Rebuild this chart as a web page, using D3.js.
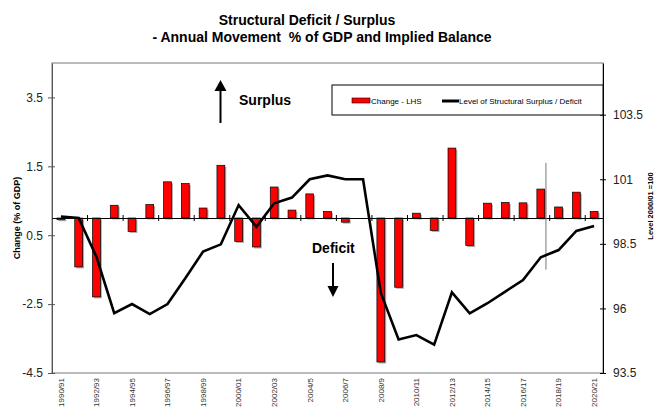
<!DOCTYPE html>
<html>
<head>
<meta charset="utf-8">
<script src="https://cdn.jsdelivr.net/npm/d3@7"></script>
<style>
  html, body { margin: 0; padding: 0; background: #fff; }
  svg { display: block; font-family: Arial, "Liberation Sans", sans-serif; }
</style>
</head>
<body>
<svg id="chart" width="664" height="410"></svg>
<script>
// ---- Data ----
const categories = [
  "1990/91","1991/92","1992/93","1993/94","1994/95","1995/96","1996/97","1997/98",
  "1998/99","1999/00","2000/01","2001/02","2002/03","2003/04","2004/5","2005/6",
  "2006/7","2007/8","2008/9","2009/10","2010/11","2011/12","2012/13","2013/14",
  "2014/15","2015/16","2016/17","2017/18","2018/19","2019/20","2020/21"
];
// Annual change in structural balance, % of GDP (left axis)
const changeValues = [
  -0.05, -1.42, -2.29, 0.37, -0.39, 0.39, 1.05, 1.0,
  0.29, 1.53, -0.68, -0.84, 0.9, 0.23, 0.7, 0.19,
  -0.12, 0.0, -4.18, -2.01, 0.14, -0.36, 2.03, -0.8,
  0.43, 0.45, 0.44, 0.84, 0.32, 0.75, 0.19
];
// Level of structural surplus / deficit, index 2000/01 = 100 (right axis)
const levelValues = [
  99.56, 99.5, 98.0, 95.82, 96.17, 95.78, 96.17, 97.17,
  98.2, 98.48, 100.0, 99.16, 100.07, 100.29, 101.0, 101.15,
  101.0, 101.0, 96.6, 94.8, 94.97, 94.6, 96.62, 95.81,
  96.2, 96.65, 97.1, 97.98, 98.26, 99.0, 99.19
];
const leftTicks = [-4.5, -2.5, -0.5, 1.5, 3.5];
const leftTickLabels = ["-4.5", "-2.5", "0.5", "1.5", "3.5"];
const rightTicks = [93.5, 96, 98.5, 101, 103.5];
const rightTickLabels = ["93.5", "96", "98.5", "101", "103.5"];
const xLabelCategories = categories.filter((d, i) => i % 2 === 0);
const seriesNames = ["Change - LHS", "Level of Structural Surplus / Deficit"];
const forecastCategory = "2017/18";

// ---- Layout ----
const svg = d3.select("#chart");
const plot = { left: 52, right: 603, top: 63, bottom: 373 };

const x = d3.scaleBand().domain(categories).range([plot.left, plot.right]).padding(0);
const yL = d3.scaleLinear().domain([-4.5, 4.5]).range([plot.bottom, plot.top]);
const yR = d3.scaleLinear().domain([93.5, 105.5]).range([plot.bottom, plot.top]);
const bw = x.bandwidth();
const barW = bw * 0.44;

// Title
svg.append("text").attr("x", 307).attr("y", 25).attr("text-anchor", "middle")
  .attr("font-size", 14).attr("font-weight", "bold").text("Structural Deficit / Surplus");
svg.append("text").attr("x", 322).attr("y", 42).attr("text-anchor", "middle")
  .attr("font-size", 14).attr("font-weight", "bold").attr("xml:space", "preserve")
  .text("- Annual Movement  % of GDP and Implied Balance");

// Plot border (gray)
svg.append("rect").attr("x", plot.left).attr("y", plot.top)
  .attr("width", plot.right - plot.left).attr("height", plot.bottom - plot.top)
  .attr("fill", "none").attr("stroke", "#777").attr("stroke-width", 1);

// Left axis
const leftAxis = d3.axisLeft(yL).tickValues(leftTicks)
  .tickFormat((d, i) => leftTickLabels[i]).tickSizeInner(4).tickSizeOuter(0).tickPadding(5);
const gL = svg.append("g").attr("transform", `translate(${plot.left},0)`).call(leftAxis);
gL.select(".domain").attr("stroke", "#555");
gL.selectAll(".tick line").attr("stroke", "#555").attr("x2", -4).attr("x1", 3);
gL.selectAll(".tick text").attr("font-size", 12).attr("fill", "#222")
  .attr("font-family", "Arial, 'Liberation Sans', sans-serif");

// Right axis
const rightAxis = d3.axisRight(yR).tickValues(rightTicks)
  .tickFormat((d, i) => rightTickLabels[i]).tickSizeInner(3).tickSizeOuter(0).tickPadding(7);
const gR = svg.append("g").attr("transform", `translate(${plot.right},0)`).call(rightAxis);
gR.select(".domain").attr("stroke", "#000");
gR.selectAll(".tick line").attr("stroke", "#000").attr("x1", -3).attr("x2", 3);
gR.selectAll(".tick text").attr("font-size", 12).attr("fill", "#222")
  .attr("font-family", "Arial, 'Liberation Sans', sans-serif");

// Axis titles
svg.append("text").attr("transform", `translate(20,218) rotate(-90)`)
  .attr("text-anchor", "middle").attr("font-size", 9).attr("font-weight", "bold")
  .text("Change (% of GDP)");
svg.append("text").attr("transform", `translate(653,206) rotate(-90)`)
  .attr("text-anchor", "middle").attr("font-size", 7.5).attr("font-weight", "bold")
  .text("Level 2000/01 =100");

// Bars (shadow + bar)
const bars = svg.append("g");
bars.selectAll("rect.shadow").data(changeValues).join("rect")
  .attr("class", "shadow")
  .attr("x", (d, i) => x(categories[i]) + (bw - barW) / 2 + 1.5)
  .attr("y", d => Math.min(yL(0), yL(d)) + 1.5)
  .attr("width", barW)
  .attr("height", d => Math.abs(yL(d) - yL(0)))
  .attr("fill", "#aaa");
bars.selectAll("rect.bar").data(changeValues).join("rect")
  .attr("class", "bar")
  .attr("x", (d, i) => x(categories[i]) + (bw - barW) / 2)
  .attr("y", d => Math.min(yL(0), yL(d)))
  .attr("width", barW)
  .attr("height", d => Math.abs(yL(d) - yL(0)))
  .attr("fill", "#ff0000").attr("stroke", "#000").attr("stroke-width", 0.7);

// Category axis on zero line
const xAxis = d3.axisBottom(x).tickValues([]).tickSizeOuter(0);
const gX = svg.append("g").attr("transform", `translate(0,${yL(0)})`).call(xAxis);
gX.select(".domain").attr("stroke", "#000");
const tickPositions = categories.map((c, i) => i).filter(i => i % 2 === 0 && i > 0).map(i => x(categories[i]));
gX.selectAll("line.xt").data(tickPositions).join("line").attr("class", "xt")
  .attr("x1", d => d).attr("x2", d => d).attr("y1", -3).attr("y2", 3)
  .attr("stroke", "#000");

// Category labels at bottom
svg.append("g").selectAll("text").data(xLabelCategories).join("text")
  .attr("transform", d => `translate(${x(d) + bw / 2},${plot.bottom + 5}) rotate(-90)`)
  .attr("text-anchor", "end").attr("dy", "0.35em")
  .attr("font-size", 8).attr("fill", "#333").text(d => d);

// Forecast marker line
const fx = x(forecastCategory) + bw * 0.79;
svg.append("line").attr("x1", fx).attr("x2", fx)
  .attr("y1", yL(1.6)).attr("y2", yL(-1.5))
  .attr("stroke", "#777").attr("stroke-width", 1);

// Level line
const line = d3.line().x((d, i) => x(categories[i]) + bw / 2).y(d => yR(d));
svg.append("path").datum(levelValues).attr("d", line)
  .attr("fill", "none").attr("stroke", "#000").attr("stroke-width", 2.6)
  .attr("stroke-linejoin", "miter");

// Legend
const lg = svg.append("g");
lg.append("rect").attr("x", 332).attr("y", 85).attr("width", 271).attr("height", 30)
  .attr("fill", "#fff").attr("stroke", "#000").attr("stroke-width", 1);
lg.append("rect").attr("x", 352).attr("y", 98).attr("width", 18).attr("height", 5)
  .attr("fill", "#ff0000").attr("stroke", "#000").attr("stroke-width", 0.6);
lg.append("text").attr("x", 371).attr("y", 104).attr("font-size", 8).text(seriesNames[0]);
lg.append("line").attr("x1", 442).attr("x2", 459).attr("y1", 101).attr("y2", 101)
  .attr("stroke", "#000").attr("stroke-width", 3);
lg.append("text").attr("x", 459).attr("y", 104).attr("font-size", 8).text(seriesNames[1]);

// Annotations
svg.append("text").attr("x", 239).attr("y", 105).attr("font-size", 14).attr("font-weight", "bold")
  .text("Surplus");
svg.append("line").attr("x1", 220.5).attr("x2", 220.5).attr("y1", 123).attr("y2", 88)
  .attr("stroke", "#000").attr("stroke-width", 2);
svg.append("path").attr("d", "M220.5,80 L214.5,91 L226.5,91 Z").attr("fill", "#000");

svg.append("text").attr("x", 312).attr("y", 253).attr("font-size", 14).attr("font-weight", "bold")
  .text("Deficit");
svg.append("line").attr("x1", 333).attr("x2", 333).attr("y1", 263).attr("y2", 288)
  .attr("stroke", "#000").attr("stroke-width", 2);
svg.append("path").attr("d", "M333,297 L327.5,286 L338.5,286 Z").attr("fill", "#000");
</script>
</body>
</html>
